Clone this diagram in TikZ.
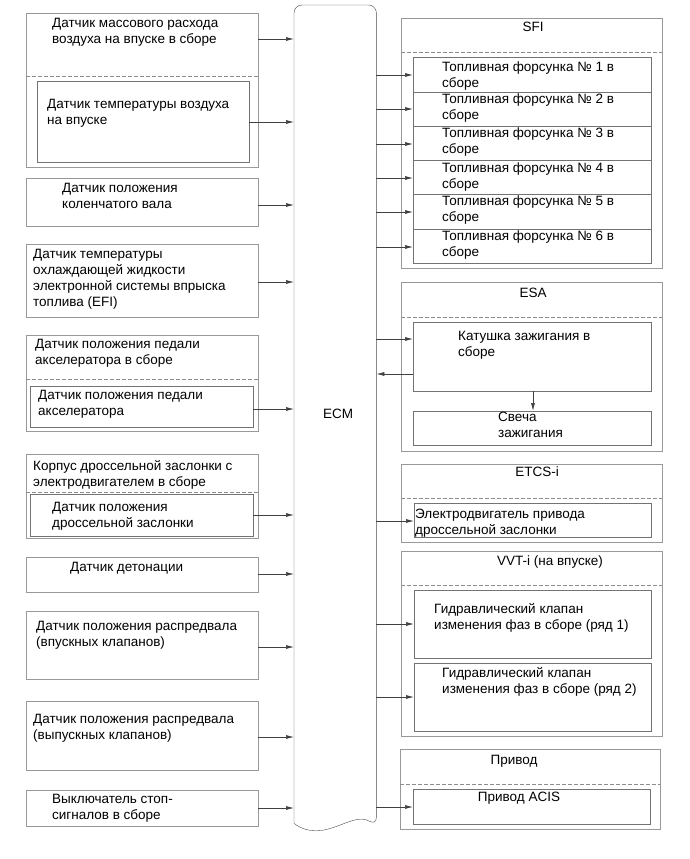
\documentclass[tikz,border=0pt]{standalone}
\usepackage{fontspec}
\setmainfont{Liberation Sans}
\usetikzlibrary{arrows.meta,positioning}

\begin{document}
\begin{tikzpicture}[
    x=1pt, y=-1pt,
    grp/.style={rectangle, draw=black!40, anchor=north west, inner sep=0pt},
    blk/.style={rectangle, draw=black!55, anchor=north west, inner sep=0pt},
    txt/.style={anchor=north west, inner sep=0pt, align=left, font=\fontsize{13.5}{16}\selectfont},
    ttl/.style={anchor=north, inner sep=0pt, font=\fontsize{13.5}{16}\selectfont},
    sepline/.style={draw=black!45, dash pattern=on 4pt off 2pt},
    arrow/.style={-{Latex[length=8pt,width=4pt]}, draw=black!75, line width=0.7pt}
]
\useasboundingbox (0,0) rectangle (689,859);

% 1. ECM (document shape)
\node[anchor=north west, minimum width=82, minimum height=818, inner sep=0pt, font=\fontsize{13.5}{16}\selectfont] (ecm) at (294,5) {\hspace{6pt}ECM};
\draw[draw=black!70, rounded corners=8pt] (ecm.south west) -- (ecm.north west) -- (ecm.north east) -- ([yshift=-2pt]ecm.south east)
    [sharp corners] .. controls +(-25,-15) and +(30,22) .. (ecm.south west);

% 2. Sensors (left column)
\node[grp, minimum width=232, minimum height=154] (maf) at (26,13) {};
\draw[sepline] (maf.west |- 0,76) -- (maf.east |- 0,76);
\node[txt] (maf_txt) at (52,18) {Датчик массового расхода\\воздуха на впуске в сборе};
\node[blk, minimum width=212, minimum height=81] (iat) at (37,81) {};
\node[txt] (iat_txt) at (47,99) {Датчик температуры воздуха\\на впуске};

\node[grp, minimum width=232, minimum height=48] (ckp) at (26,178) {};
\node[txt] (ckp_txt) at (62,183) {Датчик положения\\коленчатого вала};

\node[grp, minimum width=232, minimum height=73] (ect) at (26,244) {};
\node[txt] (ect_txt) at (33,249) {Датчик температуры\\охлаждающей жидкости\\электронной системы впрыска\\топлива (EFI)};

\node[grp, minimum width=232, minimum height=96] (app) at (26,335) {};
\draw[sepline] (app.west |- 0,379) -- (app.east |- 0,379);
\node[txt] (app_txt) at (35,339) {Датчик положения педали\\акселератора в сборе};
\node[blk, minimum width=223, minimum height=41] (app_sens) at (30,386) {};
\node[txt] (app_sens_txt) at (38,390) {Датчик положения педали\\акселератора};

\node[grp, minimum width=232, minimum height=84] (tbody) at (26,454) {};
\draw[sepline] (tbody.west |- 0,492) -- (tbody.east |- 0,492);
\node[txt] (tbody_txt) at (33,460) {Корпус дроссельной заслонки с\\электродвигателем в сборе};
\node[blk, minimum width=223, minimum height=42] (tps) at (30,494) {};
\node[txt] (tps_txt) at (52,502) {Датчик положения\\дроссельной заслонки};

\node[grp, minimum width=232, minimum height=35] (knock) at (26,557) {};
\node[txt] (knock_txt) at (70,562) {Датчик детонации};

\node[grp, minimum width=232, minimum height=68] (cam_in) at (26,611) {};
\node[txt] (cam_in_txt) at (36,621) {Датчик положения распредвала\\(впускных клапанов)};

\node[grp, minimum width=232, minimum height=69] (cam_ex) at (26,701) {};
\node[txt] (cam_ex_txt) at (33,714) {Датчик положения распредвала\\(выпускных клапанов)};

\node[grp, minimum width=232, minimum height=36] (stop_sw) at (26,790) {};
\node[txt] (stop_sw_txt) at (52,794) {Выключатель стоп-\\сигналов в сборе};

% 3. SFI
\node[grp, minimum width=261, minimum height=250] (sfi) at (401,18) {};
\draw[sepline] (sfi.west |- 0,52) -- (sfi.east |- 0,52);
\node[ttl] (sfi_ttl) at (533,22) {SFI};
\node[blk, minimum width=238, minimum height=35] (inj1) at (413,57) {};
\node[blk, minimum width=238, minimum height=34] (inj2) at (413,92) {};
\node[blk, minimum width=238, minimum height=34] (inj3) at (413,126) {};
\node[blk, minimum width=238, minimum height=34] (inj4) at (413,160) {};
\node[blk, minimum width=238, minimum height=35] (inj5) at (413,194) {};
\node[blk, minimum width=238, minimum height=34] (inj6) at (413,229) {};
\node[txt] (inj1_txt) at (442,62) {Топливная форсунка № 1 в\\сборе};
\node[txt] (inj2_txt) at (442,94) {Топливная форсунка № 2 в\\сборе};
\node[txt] (inj3_txt) at (442,128) {Топливная форсунка № 3 в\\сборе};
\node[txt] (inj4_txt) at (442,163) {Топливная форсунка № 4 в\\сборе};
\node[txt] (inj5_txt) at (442,196) {Топливная форсунка № 5 в\\сборе};
\node[txt] (inj6_txt) at (442,231) {Топливная форсунка № 6 в\\сборе};

% 4. ESA
\node[grp, minimum width=261, minimum height=169] (esa) at (401,282) {};
\draw[sepline] (esa.west |- 0,317) -- (esa.east |- 0,317);
\node[ttl] (esa_ttl) at (533,288) {ESA};
\node[blk, minimum width=238, minimum height=69] (coil) at (413,322) {};
\node[txt] (coil_txt) at (458,331) {Катушка зажигания в\\сборе};
\node[blk, minimum width=238, minimum height=34] (plug) at (413,411) {};
\node[txt] (plug_txt) at (498,412) {Свеча\\зажигания};

% 5. ETCS-i
\node[grp, minimum width=261, minimum height=78] (etcs) at (401,464) {};
\draw[sepline] (etcs.west |- 0,498) -- (etcs.east |- 0,498);
\node[ttl] (etcs_ttl) at (537,467) {ETCS-i};
\node[blk, minimum width=237, minimum height=34] (motor) at (414,503) {};
\node[txt] (motor_txt) at (415,509) {Электродвигатель привода\\дроссельной заслонки};

% 6. VVT-i
\node[grp, minimum width=261, minimum height=185] (vvt) at (401,551) {};
\draw[sepline] (vvt.west |- 0,585) -- (vvt.east |- 0,585);
\node[ttl] (vvt_ttl) at (550,556) {VVT-i (на впуске)};
\node[blk, minimum width=237, minimum height=68] (ocv1) at (414,590) {};
\node[txt] (ocv1_txt) at (434,603) {Гидравлический клапан\\изменения фаз в сборе (ряд 1)};
\node[blk, minimum width=237, minimum height=68] (ocv2) at (414,663) {};
\node[txt] (ocv2_txt) at (442,667) {Гидравлический клапан\\изменения фаз в сборе (ряд 2)};

% 7. Actuator
\node[grp, minimum width=260, minimum height=80] (act) at (400,749) {};
\draw[sepline] (act.west |- 0,784) -- (act.east |- 0,784);
\node[ttl] (act_ttl) at (514,755) {Привод};
\node[blk, minimum width=237, minimum height=35] (acis) at (413,789) {};
\node[ttl] (acis_txt) at (519,792) {Привод ACIS};

% Arrows: sensors -> ECM
\draw[arrow] (maf.east |- 0,39) -- (ecm.west |- 0,39);
\draw[arrow] (iat.east |- 0,122) -- (ecm.west |- 0,122);
\draw[arrow] (ckp.east |- 0,205) -- (ecm.west |- 0,205);
\draw[arrow] (ect.east |- 0,282) -- (ecm.west |- 0,282);
\draw[arrow] (app_sens.east |- 0,409) -- (ecm.west |- 0,409);
\draw[arrow] (tps.east |- 0,515) -- (ecm.west |- 0,515);
\draw[arrow] (knock.east |- 0,574) -- (ecm.west |- 0,574);
\draw[arrow] (cam_in.east |- 0,647) -- (ecm.west |- 0,647);
\draw[arrow] (cam_ex.east |- 0,737) -- (ecm.west |- 0,737);
\draw[arrow] (stop_sw.east |- 0,808) -- (ecm.west |- 0,808);

% Arrows: ECM -> actuators
\draw[arrow] (ecm.east |- 0,75) -- (inj1.west |- 0,75);
\draw[arrow] (ecm.east |- 0,109) -- (inj2.west |- 0,109);
\draw[arrow] (ecm.east |- 0,144) -- (inj3.west |- 0,144);
\draw[arrow] (ecm.east |- 0,178) -- (inj4.west |- 0,178);
\draw[arrow] (ecm.east |- 0,212) -- (inj5.west |- 0,212);
\draw[arrow] (ecm.east |- 0,247) -- (inj6.west |- 0,247);
\draw[arrow] (ecm.east |- 0,339) -- (coil.west |- 0,339);
\draw[arrow] (coil.west |- 0,374) -- (ecm.east |- 0,374);
\draw[arrow] (coil.south -| 533,0) -- (plug.north -| 533,0);
\draw[arrow] (ecm.east |- 0,521) -- (motor.west |- 0,521);
\draw[arrow] (ecm.east |- 0,624) -- (ocv1.west |- 0,624);
\draw[arrow] (ecm.east |- 0,697) -- (ocv2.west |- 0,697);
\draw[arrow] (ecm.east |- 0,807) -- (acis.west |- 0,807);

\end{tikzpicture}
\end{document}
